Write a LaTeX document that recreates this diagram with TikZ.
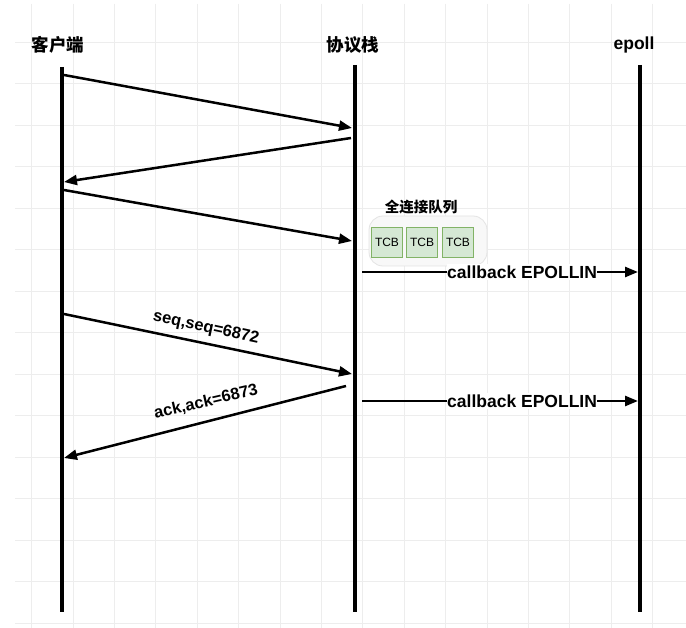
\documentclass[tikz,border=0pt]{standalone}
\usepackage{fontspec}
\setmainfont{Liberation Sans}
\newfontfamily\cjk{Noto Sans CJK SC}
\usetikzlibrary{arrows.meta}
\definecolor{gridc}{HTML}{EDEDED}
\definecolor{tcbfill}{HTML}{D5E8D4}
\definecolor{tcbline}{HTML}{82B366}
\definecolor{qline}{HTML}{E4E4E4}
\definecolor{qfill}{HTML}{F8F8F8}
\begin{document}
\begin{tikzpicture}[x=1pt,y=-1pt,
  hdr/.style={font=\fontsize{17.5}{17.5}\selectfont\bfseries, inner sep=0pt},
  life/.style={line width=4.2pt},
  msg/.style={line width=2.5pt, -{Triangle[length=13pt,width=10pt]}},
  lbl/.style={font=\fontsize{16.5}{16.5}\selectfont\bfseries, inner sep=0pt},
  cblbl/.style={font=\fontsize{17.5}{17.5}\selectfont\bfseries, fill=white, inner xsep=0.5pt, inner ysep=2pt},
  tcb/.style={draw=tcbline, fill=tcbfill, line width=0.8pt, minimum width=31pt, minimum height=30pt, inner sep=0pt, font=\fontsize{12}{12}\selectfont},
  queue/.style={draw=qline, fill=qfill, line width=0.8pt, rounded corners=14pt, minimum width=118pt, minimum height=50pt}
]
\useasboundingbox (0,0) rectangle (686,628);
\fill[white] (0,0) rectangle (686,628);
% grid
\foreach \i in {0,...,15} {
  \draw[gridc, line width=0.8pt] ({31.6+41.4*\i},4) -- ({31.6+41.4*\i},628);
}
\foreach \j in {1,...,15} {
  \draw[gridc, line width=0.8pt] (15,{540-41.5*(13-\j)}) -- (686,{540-41.5*(13-\j)});
}
% headers
\node[hdr] (hc) at (58,45) {\cjk\bfseries 客户端};
\node[hdr] (hs) at (353,45) {\cjk\bfseries 协议栈};
\node[hdr] (he) at (634,45) {epoll};
% lifelines
\coordinate (ct) at (62,67); \coordinate (cb) at (62,612);
\coordinate (st) at (355,65); \coordinate (sb) at (355,612);
\coordinate (et) at (640,65); \coordinate (eb) at (640,612);
\draw[life] (ct) -- (cb);
\draw[life] (st) -- (sb);
\draw[life] (et) -- (eb);
% queue
\node[queue] (q) at (428,241) {};
\node[font=\cjk\fontsize{14.5}{14.5}\selectfont\bfseries, inner sep=0pt] (ql) at (421,207) {全连接队列};
\node[tcb] (t1) at (387,242) {TCB};
\node[tcb] (t2) at (422,242) {TCB};
\node[tcb] (t3) at (458,242) {TCB};
% message endpoints
\coordinate (m1a) at (64,75);  \coordinate (m1b) at (352,128);
\coordinate (m2a) at (351,138); \coordinate (m2b) at (64,182);
\coordinate (m3a) at (64,190); \coordinate (m3b) at (352,241);
\coordinate (m5a) at (64,314); \coordinate (m5b) at (352,374);
\coordinate (m6a) at (346,386); \coordinate (m6b) at (64,458);
\coordinate (c1a) at (362,272); \coordinate (c1b) at (638,272);
\coordinate (c2a) at (362,401); \coordinate (c2b) at (638,401);
\draw[msg] (m1a) -- (m1b);
\draw[msg] (m2a) -- (m2b);
\draw[msg] (m3a) -- (m3b);
\draw[msg] (m5a) -- (m5b);
\draw[msg] (m6a) -- (m6b);
\draw[msg] (c1a) -- node[cblbl, pos=0.58] (cl1) {callback EPOLLIN} (c1b);
\draw[msg] (c2a) -- node[cblbl, pos=0.58] (cl2) {callback EPOLLIN} (c2b);
\node[lbl, rotate=-12] (l5) at (206,328) {seq,seq=6872};
\node[lbl, rotate=13] (l6) at (206,402) {ack,ack=6873};
\end{tikzpicture}
\end{document}
